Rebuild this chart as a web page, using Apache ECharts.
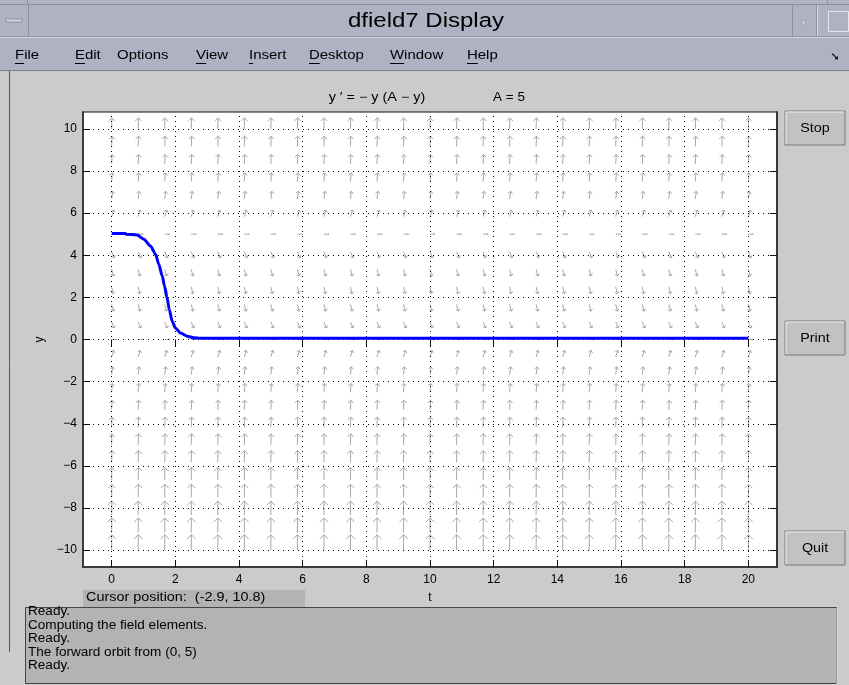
<!DOCTYPE html>
<html><head><meta charset="utf-8">
<script src="https://cdn.jsdelivr.net/npm/echarts@6/dist/echarts.min.js"></script>
<style>html,body{margin:0;padding:0;background:#cbcbcb;overflow:hidden}#c{width:849px;height:685px}</style>
</head><body><div id="c"></div>
<script>
// ---- data ----
const xTicks = [0, 2, 4, 6, 8, 10, 12, 14, 16, 18, 20];
const yTicks = [-10, -8, -6, -4, -2, 0, 2, 4, 6, 8, 10];
const fieldT = [0, 0.833, 1.667, 2.5, 3.333, 4.167, 5, 5.833, 6.667, 7.5, 8.333, 9.167, 10,
  10.833, 11.667, 12.5, 13.333, 14.167, 15, 15.833, 16.667, 17.5, 18.333, 19.167, 20];
const fieldY = [-10, -9.167, -8.333, -7.5, -6.667, -5.833, -5, -4.167, -3.333, -2.5, -1.667, -0.833, 0,
  0.833, 1.667, 2.5, 3.333, 4.167, 5, 5.833, 6.667, 7.5, 8.333, 9.167, 10];
const fieldSlope = [150, 129.9, 111.1, 93.75, 77.78, 63.19, 50, 38.19, 27.78, 18.75, 11.11, 4.86, 0,
  -3.47, -5.56, -6.25, -5.56, -3.47, 0, 4.86, 11.11, 18.75, 27.78, 38.19, 50];
const orbitT = [0, 0.43, 0.45, 0.8, 1.01, 1.22, 1.38, 1.48, 1.59, 1.66, 1.74, 1.81, 1.9, 2.0, 2.16, 2.37, 2.58, 2.79, 20];
const orbitY = [5.03, 5.03, 5.0, 4.96, 4.76, 4.44, 4.05, 3.57, 3.01, 2.54, 1.98, 1.43, 0.87, 0.55, 0.31, 0.16, 0.08, 0.06, 0.06];
const windowTitle = 'dfield7 Display';
const menuItems = ['File', 'Edit', 'Options', 'View', 'Insert', 'Desktop', 'Window', 'Help'];
const menuX = [15, 75, 117, 196, 249, 309, 390, 467];
const menuUnderline = [true, true, false, true, true, true, true, true];
const plotTitle = 'y \u2032 = \u2212 y (A \u2212 y)';
const paramText = 'A = 5';
const buttons = ['Stop', 'Print', 'Quit'];
const buttonY = [111, 321, 531];
const cursorText = 'Cursor position:  (-2.9, 10.8)';
const logLines = ['Ready.', 'Computing the field elements.', 'Ready.', 'The forward orbit from (0, 5)', 'Ready.'];

// ---- chart ----
const FONT = '"Liberation Sans", Arial, sans-serif';
const chart = echarts.init(document.getElementById('c'), null, {renderer: 'canvas'});
const minus = v => String(v).replace('-', '\u2212');

const fieldData = [];
fieldT.forEach(t => fieldY.forEach((y, j) => fieldData.push([t, y, fieldSlope[j]])));

function arrow(params, api) {
  const p = api.coord([api.value(0), api.value(1)]);
  const s = api.value(2);
  const u = api.size([1, 1]);
  let vx = u[0], vy = -u[1] * s;
  const n = Math.hypot(vx, vy); vx /= n; vy /= n;
  const L = 5 + 0.85 * Math.sqrt(Math.abs(s));
  const hx = p[0] + vx * L, hy = p[1] + vy * L;
  const h = (Math.abs(s) < 1 ? 0.2 : 0.4) * L, a = Math.PI / 4;
  const bx = -vx, by = -vy;
  const w1 = [hx + h * (bx * Math.cos(a) - by * Math.sin(a)), hy + h * (bx * Math.sin(a) + by * Math.cos(a))];
  const w2 = [hx + h * (bx * Math.cos(-a) - by * Math.sin(-a)), hy + h * (bx * Math.sin(-a) + by * Math.cos(-a))];
  const st = {stroke: '#a8a8a8', lineWidth: 1, fill: null};
  return {type: 'group', children: [
    {type: 'polyline', shape: {points: [p, [hx, hy]]}, style: st},
    {type: 'polyline', shape: {points: [w1, [hx, hy], w2]}, style: st}
  ]};
}

const gfx = [];
// window chrome
gfx.push({type: 'rect', shape: {x: 0, y: 0, width: 849, height: 71}, style: {fill: '#aeb2c3'}, silent: true});
gfx.push({type: 'line', shape: {x1: 0, y1: 4.5, x2: 849, y2: 4.5}, style: {stroke: '#8d909e', lineWidth: 1}});
gfx.push({type: 'line', shape: {x1: 0, y1: 36.5, x2: 849, y2: 36.5}, style: {stroke: '#8d909e', lineWidth: 1}});
gfx.push({type: 'line', shape: {x1: 0, y1: 37.5, x2: 849, y2: 37.5}, style: {stroke: '#d4d6e0', lineWidth: 1}});
gfx.push({type: 'line', shape: {x1: 28.5, y1: 5, x2: 28.5, y2: 36}, style: {stroke: '#8d909e', lineWidth: 1}});
gfx.push({type: 'line', shape: {x1: 27.5, y1: 0, x2: 27.5, y2: 5}, style: {stroke: '#8d909e', lineWidth: 1}});
gfx.push({type: 'rect', shape: {x: 6, y: 19, width: 16, height: 3}, style: {fill: '#d8dae3', stroke: '#8d909e', lineWidth: 1}});
gfx.push({type: 'line', shape: {x1: 792.5, y1: 5, x2: 792.5, y2: 36}, style: {stroke: '#8d909e', lineWidth: 1}});
gfx.push({type: 'line', shape: {x1: 816.5, y1: 5, x2: 816.5, y2: 36}, style: {stroke: '#8d909e', lineWidth: 1}});
gfx.push({type: 'line', shape: {x1: 817.5, y1: 5, x2: 817.5, y2: 36}, style: {stroke: '#d4d6e0', lineWidth: 1}});
gfx.push({type: 'rect', shape: {x: 802, y: 21, width: 3, height: 3}, style: {fill: '#d8dae3', stroke: '#8d909e', lineWidth: 0.5}});
gfx.push({type: 'rect', shape: {x: 828.5, y: 11.5, width: 20, height: 20}, style: {fill: '#aeb2c3', stroke: '#e6e7ee', lineWidth: 1}});
gfx.push({type: 'line', shape: {x1: 827.5, y1: 0, x2: 827.5, y2: 5}, style: {stroke: '#8d909e', lineWidth: 1}});
gfx.push({type: 'text', x: 426, y: 21, scaleX: 1.2, style: {text: windowTitle, font: '20px ' + FONT, fill: '#000', align: 'center', verticalAlign: 'middle'}});
gfx.push({type: 'line', shape: {x1: 0, y1: 70.5, x2: 849, y2: 70.5}, style: {stroke: '#7d808c', lineWidth: 1}});
const MS = 1.15;
const firstW = {F: 0.611, E: 0.667, V: 0.667, I: 0.278, D: 0.722, W: 0.944, H: 0.722};
menuItems.forEach((m, i) => {
  gfx.push({type: 'text', x: menuX[i], y: 55, scaleX: MS, style: {text: m, font: '13px ' + FONT, fill: '#000', verticalAlign: 'middle'}});
  if (menuUnderline[i]) {
    const w = (firstW[m[0]] || 0.6) * 13 * MS;
    gfx.push({type: 'line', shape: {x1: menuX[i], y1: 63.5, x2: menuX[i] + w, y2: 63.5}, style: {stroke: '#000', lineWidth: 1}});
  }
});
gfx.push({type: 'text', x: 835, y: 57, style: {text: '\u2798', font: 'bold 11px "DejaVu Sans"', fill: '#000', align: 'center', verticalAlign: 'middle'}});
// left frame line
gfx.push({type: 'line', shape: {x1: 9.5, y1: 71, x2: 9.5, y2: 652}, style: {stroke: '#555', lineWidth: 1}});
// plot titles
gfx.push({type: 'text', x: 377, y: 98, scaleX: 1.2, style: {text: plotTitle, font: '12px ' + FONT, fill: '#000', align: 'center', verticalAlign: 'middle'}});
gfx.push({type: 'text', x: 509, y: 98, scaleX: 1.12, style: {text: paramText, font: '12px ' + FONT, fill: '#000', align: 'center', verticalAlign: 'middle'}});
// buttons
buttons.forEach((b, i) => {
  const y = buttonY[i];
  gfx.push({type: 'rect', shape: {x: 785, y: y, width: 60, height: 34}, style: {fill: '#c2c2c2', stroke: '#7a7a7a', lineWidth: 1}});
  gfx.push({type: 'polyline', shape: {points: [[786, y + 33], [786, y + 1], [844, y + 1]]}, style: {stroke: '#ececec', lineWidth: 1, fill: null}});
  gfx.push({type: 'text', x: 815, y: y + 17, scaleX: 1.1, style: {text: b, font: '13px ' + FONT, fill: '#000', align: 'center', verticalAlign: 'middle'}});
});
// cursor box
gfx.push({type: 'rect', shape: {x: 83, y: 590, width: 222, height: 17}, style: {fill: '#b3b3b3'}});
gfx.push({type: 'text', x: 86, y: 598, scaleX: 1.2, style: {text: cursorText, font: '12px ' + FONT, fill: '#000', verticalAlign: 'middle'}});
// log box
gfx.push({type: 'rect', shape: {x: 25.5, y: 607.5, width: 811, height: 76}, style: {fill: '#b3b3b3', stroke: '#444', lineWidth: 1}});
gfx.push({type: 'polyline', shape: {points: [[837, 608], [837, 684]]}, style: {stroke: '#e8e8e8', lineWidth: 1, fill: null}});
logLines.forEach((l, i) => {
  gfx.push({type: 'text', x: 28, y: 612 + i * 13.5, scaleX: 1.13, style: {text: l, font: '12px ' + FONT, fill: '#000', verticalAlign: 'middle'}});
});

const option = {
  animation: false,
  backgroundColor: '#cbcbcb',
  grid: {left: 83, top: 112, width: 694, height: 455, show: true, backgroundColor: '#fff', borderColor: '#111', borderWidth: 1},
  xAxis: [{
    type: 'value', min: -0.9, max: 20.9, position: 'bottom',
    axisLine: {show: true, onZero: false, lineStyle: {color: '#3a3a3a', width: 2}},
    axisTick: {show: true, inside: true, length: 7, customValues: xTicks, lineStyle: {color: '#111'}},
    axisLabel: {show: true, customValues: xTicks, color: '#000', fontSize: 12, fontFamily: FONT, margin: 7, formatter: minus},
    splitLine: {show: false},
    name: 't', nameLocation: 'middle', nameGap: 25, nameTextStyle: {color: '#000', fontSize: 12, fontFamily: FONT}
  }, {
    type: 'value', min: -0.9, max: 20.9, position: 'top',
    axisLine: {show: false},
    axisTick: {show: true, inside: true, length: 7, customValues: xTicks, lineStyle: {color: '#111'}},
    axisLabel: {show: false}, splitLine: {show: false}
  }],
  yAxis: [{
    type: 'value', min: -10.8, max: 10.8, position: 'left',
    axisLine: {show: true, onZero: false, lineStyle: {color: '#3a3a3a', width: 2}},
    axisTick: {show: true, inside: true, length: 7, customValues: yTicks, lineStyle: {color: '#111'}},
    axisLabel: {show: true, customValues: yTicks, color: '#000', fontSize: 12, fontFamily: FONT, margin: 6, formatter: minus},
    splitLine: {show: false},
    name: 'y', nameLocation: 'middle', nameGap: 32, nameRotate: 90, nameTextStyle: {color: '#000', fontSize: 12, fontFamily: FONT}
  }, {
    type: 'value', min: -10.8, max: 10.8, position: 'right',
    axisLine: {show: true, onZero: false, lineStyle: {color: '#3a3a3a', width: 2}},
    axisTick: {show: true, inside: true, length: 7, customValues: yTicks, lineStyle: {color: '#111'}},
    axisLabel: {show: false}, splitLine: {show: false}
  }],
  graphic: gfx,
  series: [{
    type: 'line', data: [], silent: true,
    markLine: {
      silent: true, symbol: ['none', 'none'], label: {show: false}, animation: false,
      lineStyle: {color: '#000', type: [1, 4], width: 1},
      emphasis: {disabled: true},
      data: xTicks.map(v => ({xAxis: v})).concat(yTicks.map(v => ({yAxis: v})))
    }
  }, {
    type: 'custom', data: fieldData, renderItem: arrow, silent: true, clip: true, z: 3
  }, {
    type: 'line', data: orbitT.map((t, i) => [t, orbitY[i]]), showSymbol: false, silent: true,
    smooth: 0.25, smoothMonotone: 'x',
    lineStyle: {color: '#0000ff', width: 3}, z: 5
  }]
};
chart.setOption(option);
</script></body></html>
